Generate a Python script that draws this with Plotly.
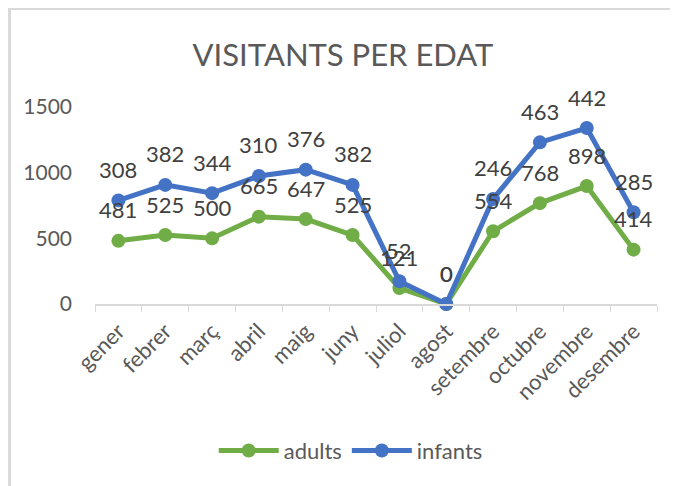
import plotly.graph_objects as go

months = ["gener", "febrer", "març", "abril", "maig", "juny", "juliol", "agost",
          "setembre", "octubre", "novembre", "desembre"]
adults = [481, 525, 500, 665, 647, 525, 121, 0, 554, 768, 898, 414]
infants = [308, 382, 344, 310, 376, 382, 52, 0, 246, 463, 442, 285]
# stacked line: infants drawn on top of adults
infants_stacked = [a + i for a, i in zip(adults, infants)]

GREEN = "#70AD47"
BLUE = "#4472C4"
TXT = "#404040"
FONT = "Lato, Open Sans, sans-serif"

# page body adds an 8px offset, so the figure is 8px smaller each way
W, H = 670, 478

fig = go.Figure()
fig.add_trace(go.Scatter(x=months, y=adults, name="adults", mode="lines+markers",
                         line=dict(color=GREEN, width=5),
                         marker=dict(color=GREEN, size=14), cliponaxis=False))
fig.add_trace(go.Scatter(x=months, y=infants_stacked, name="infants", mode="lines+markers",
                         line=dict(color=BLUE, width=5),
                         marker=dict(color=BLUE, size=14), cliponaxis=False))

#* data labels sit well above each point
for ys, vals in ((adults, adults), (infants_stacked, infants)):
    for m, y, v in zip(months, ys, vals):
        fig.add_annotation(x=m, y=y, text=str(v), showarrow=False, yshift=31,
                           font=dict(size=22, color=TXT, family=FONT))

#* light gray chart border along top and left edge
fig.add_shape(type="line", xref="paper", yref="paper", x0=-0.16, x1=1.1,
              y0=1.5, y1=1.5, line=dict(color="#D9D9D9", width=3))
fig.add_shape(type="line", xref="paper", yref="paper", x0=-0.152, x1=-0.152,
              y0=1.5, y1=-0.95, line=dict(color="#D9D9D9", width=3))

fig.update_layout(
    width=W, height=H,
    margin=dict(l=87, r=21, t=99, b=182),
    paper_bgcolor="white", plot_bgcolor="white",
    title=dict(text="VISITANTS PER EDAT", x=0.5, xanchor="center", y=1 - 47 / H,
               yanchor="middle", font=dict(size=31, color="#595959", family=FONT)),
    font=dict(family=FONT, color="#595959"),
    showlegend=True,
    legend=dict(orientation="h", x=0.455, xanchor="center", y=-0.745, yanchor="middle",
                font=dict(size=22, color="#595959"), itemwidth=60),
)
fig.update_xaxes(range=[-0.5, len(months) - 0.5], showgrid=False, showline=True,
                 linecolor="#D9D9D9", linewidth=1.5,
                 ticks="outside", tickcolor="#D9D9D9", ticklen=6, tickson="boundaries",
                 ticklabelstandoff=4,
                 tickangle=-45, tickfont=dict(size=22, color="#595959"), automargin=False)
fig.update_yaxes(range=[0, 1500], tickvals=[0, 500, 1000, 1500], showgrid=False,
                 zeroline=False, showline=False, ticks="", ticklabelstandoff=22,
                 tickfont=dict(size=21, color="#595959"), automargin=False)

fig.write_html("out.html")
